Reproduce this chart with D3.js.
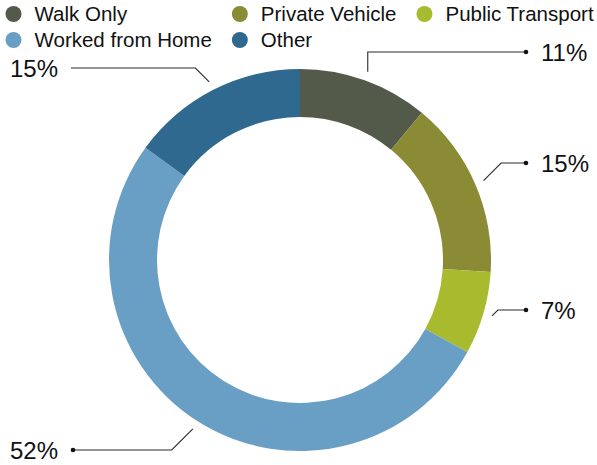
<!DOCTYPE html>
<html>
<head>
<meta charset="utf-8">
<script src="https://cdn.jsdelivr.net/npm/d3@7"></script>
<style>
  html, body { margin: 0; padding: 0; background: #fff; }
  svg { display: block; font-family: "Liberation Sans", Arial, Helvetica, sans-serif; }
</style>
</head>
<body>
<svg id="chart" width="597" height="465"></svg>
<script>
// Commute mode shares (percent), clockwise from 12 o'clock
const categories = ["Walk Only", "Private Vehicle", "Public Transport", "Worked from Home", "Other"];
const shares = [11, 15, 7, 52, 15];
const palette = ["#535a4a", "#8a8b34", "#a8bb2e", "#6a9fc5", "#30698f"];
const valueLabels = ["11%", "15%", "7%", "52%", "15%"];

// Legend reading order: row 1 then row 2
const legendRows = [
  ["Walk Only", "Private Vehicle", "Public Transport"],
  ["Worked from Home", "Other"]
];

const svg = d3.select("#chart");
const cx = 300, cy = 260;
const outerR = 191, innerR = 143;

const color = d3.scaleOrdinal().domain(categories).range(palette);

const pie = d3.pie().sort(null).value(d => d.value);
const arcs = pie(categories.map((c, i) => ({ name: c, value: shares[i], label: valueLabels[i] })));

const arc = d3.arc().innerRadius(innerR).outerRadius(outerR);

const g = svg.append("g").attr("transform", `translate(${cx},${cy})`);

g.selectAll("path.slice")
  .data(arcs)
  .join("path")
  .attr("class", "slice")
  .attr("d", arc)
  .attr("fill", d => color(d.data.name));

// Leader lines: start just outside the ring at each slice's mid-angle,
// bend towards the label row, then run horizontally (ending in a dot).
const leaderR = outerR + 9;
const labelLayout = {
  "Walk Only":        { side: 1,  y: 52,  bend: "vertical", dot: true },
  "Private Vehicle":  { side: 1,  y: 163, bend: "diagonal", dot: true },
  "Public Transport": { side: 1,  y: 310, bend: "diagonal", dot: true },
  "Worked from Home": { side: -1, y: 450, bend: "diagonal", dot: true },
  "Other":            { side: -1, y: 68,  bend: "diagonal", dot: false }
};
const dotXRight = 526, dotXLeft = 73, lineEndLeft = 71;
const textXRight = 541, textXLeft = 58;

const leaders = svg.append("g");
arcs.forEach(d => {
  const lay = labelLayout[d.data.name];
  const mid = (d.startAngle + d.endAngle) / 2;
  const x0 = cx + leaderR * Math.sin(mid);
  const y0 = cy - leaderR * Math.cos(mid);
  const dy = Math.abs(lay.y - y0);
  const x1 = lay.bend === "vertical" ? x0 : x0 + lay.side * dy;
  const xd = lay.side > 0 ? dotXRight : (lay.dot ? dotXLeft : lineEndLeft);

  leaders.append("path")
    .attr("d", d3.line()([[x0, y0], [x1, lay.y], [xd, lay.y]]))
    .attr("fill", "none")
    .attr("stroke", "#2b2b2b")
    .attr("stroke-width", 1.1);

  if (lay.dot) {
    leaders.append("circle")
      .attr("cx", xd).attr("cy", lay.y).attr("r", 2.3)
      .attr("fill", "#111");
  }

  leaders.append("text")
    .attr("x", lay.side > 0 ? textXRight : textXLeft)
    .attr("y", lay.y + 9)
    .attr("text-anchor", lay.side > 0 ? "start" : "end")
    .attr("font-size", 24)
    .attr("fill", "#111")
    .text(d.data.label);
});

// Legend: columns flow left to right, each sized to its widest entry
const legend = svg.append("g");
const rowY = [14, 40];
const swatchR = 8;
const textGap = 13;
const colGap = 20;
const legendFont = 20.5;
const nCols = d3.max(legendRows, r => r.length);

const measure = legend.append("text").attr("font-size", legendFont).attr("visibility", "hidden");
const textW = name => { measure.text(name); return measure.node().getComputedTextLength(); };

let colX = 5.5; // left edge of swatch
for (let c = 0; c < nCols; c++) {
  let maxW = 0;
  legendRows.forEach((row, r) => {
    const name = row[c];
    if (!name) return;
    const item = legend.append("g").attr("transform", `translate(${colX},${rowY[r]})`);
    item.append("circle")
      .attr("cx", swatchR).attr("cy", 0).attr("r", swatchR)
      .attr("fill", color(name));
    item.append("text")
      .attr("x", swatchR * 2 + textGap)
      .attr("y", 7)
      .attr("font-size", legendFont)
      .attr("fill", "#111")
      .text(name);
    maxW = Math.max(maxW, textW(name));
  });
  colX += swatchR * 2 + textGap + maxW + colGap;
}
measure.remove();
</script>
</body>
</html>
